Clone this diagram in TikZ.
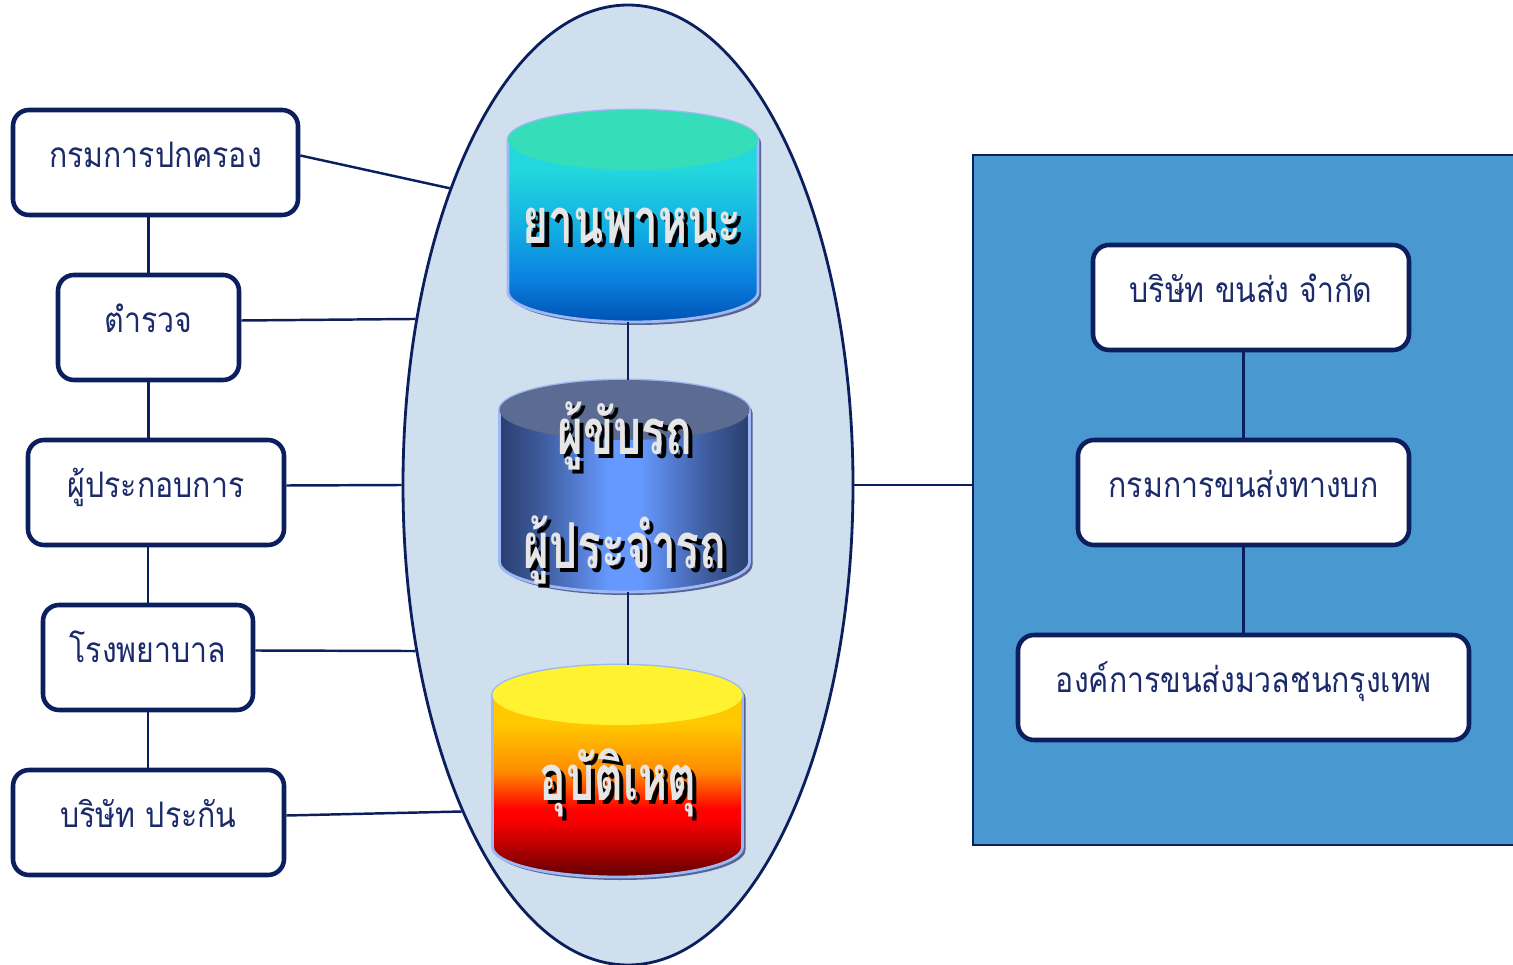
\documentclass[tikz,border=0pt]{standalone}
\usepackage{fontspec}
\newfontfamily\boxfont[Script=Thai, FakeStretch=0.86]{Loma}
\newfontfamily\cylfont[Script=Thai, FakeStretch=0.7]{Loma}
\usetikzlibrary{shapes.geometric,shadows}

\definecolor{navy}{HTML}{0B1F5E}
\definecolor{navytext}{HTML}{1A2A6A}
\definecolor{hubfill}{HTML}{CFDFEE}
\definecolor{panelblue}{HTML}{4A98D0}
\definecolor{cylline}{HTML}{9DB8F5}
\definecolor{labelgray}{HTML}{E6E6E6}
% cylinder colours
\definecolor{vehtop}{HTML}{35DDB8}
\definecolor{vehA}{HTML}{22D8DE}
\definecolor{vehB}{HTML}{12AEE2}
\definecolor{vehC}{HTML}{0A80E0}
\definecolor{vehD}{HTML}{0052B2}
\definecolor{drvtop}{HTML}{5B6B92}
\definecolor{drvA}{HTML}{2A3F70}
\definecolor{drvB}{HTML}{3D5A9A}
\definecolor{drvC}{HTML}{6699FF}
\definecolor{acctop}{HTML}{FFF230}
\definecolor{accA}{HTML}{FFC800}
\definecolor{accB}{HTML}{FF8C00}
\definecolor{accC}{HTML}{FF0000}
\definecolor{accD}{HTML}{C00000}
\definecolor{accE}{HTML}{600000}

\pgfdeclareverticalshading{vehshade}{100bp}{color(0bp)=(vehD); color(25bp)=(vehD);
  color(35bp)=(vehC); color(47bp)=(vehB); color(61bp)=(vehA); color(75bp)=(vehA); color(100bp)=(vehA)}
\pgfdeclarehorizontalshading{drvshade}{100bp}{color(0bp)=(drvA); color(25bp)=(drvA);
  color(33bp)=(drvB); color(47bp)=(drvC); color(53bp)=(drvC); color(67bp)=(drvB); color(75bp)=(drvA); color(100bp)=(drvA)}
\pgfdeclareverticalshading{accshade}{100bp}{color(0bp)=(accE); color(25bp)=(accE);
  color(33bp)=(accD); color(39bp)=(accC); color(41bp)=(accC); color(50bp)=(accB); color(61bp)=(accA); color(75bp)=(accA); color(100bp)=(accA)}

\tikzset{
  orgbox/.style={rectangle, rounded corners=1.6mm, draw=navy, line width=1.3pt, fill=white,
    minimum height=1.05cm, inner sep=0pt, text height=7pt, text depth=4pt,
    text=navytext, font=\boxfont\fontsize{10}{12}\selectfont},
  link/.style={draw=navy, line width=0.7pt},
  cylholder/.style={rectangle, inner sep=0pt, outer sep=0pt, minimum width=2.5cm, minimum height=2.12cm},
  cyllabel/.style={font=\cylfont\bfseries\fontsize{18}{22}\selectfont},
}

% shadowed text on the cylinders
\newcommand\cyltext[1]{\leavevmode\rlap{\kern1.2pt\raisebox{-1.2pt}{\color{black}#1}}{\color{labelgray}#1}}

% body and lid of a cylinder round a holder node
\newcommand\drawcyl[3]{%
  \path[draw=cylline, line width=0.8pt, shade, shading=#2,
    drop shadow={shadow xshift=0.3mm, shadow yshift=-0.3mm, fill=navy!75, opacity=0.9}]
    ([yshift=-3mm]#1.north west) -- ([yshift=3mm]#1.south west)
    arc[start angle=180, end angle=360, x radius=1.25cm, y radius=3mm]
    -- ([yshift=-3mm]#1.north east)
    arc[start angle=0, end angle=180, x radius=1.25cm, y radius=3mm] -- cycle;
  \fill[#3] ([yshift=-3mm]#1.north) ellipse[x radius=1.25cm, y radius=3mm];
}

\begin{document}
\begin{tikzpicture}
\useasboundingbox (0,0) rectangle (15.13,-9.65);
\clip (0,0) rectangle (15.13,-9.65);

% centre ellipse and right panel
\node [ellipse, draw=navy, line width=0.8pt, fill=hubfill, inner sep=0pt,
       minimum width=4.5cm, minimum height=9.6cm] (hub) at (6.28,-4.85) {};
\node [rectangle, draw=navy, line width=0.8pt, fill=panelblue, inner sep=0pt,
       minimum width=5.43cm, minimum height=6.9cm] (panel) at (12.445,-5.0) {};

% left column
\node [orgbox, minimum width=2.85cm] (dopa) at (1.555,-1.625) {กรมการปกครอง};
\node [orgbox, minimum width=1.81cm] (police) at (1.485,-3.275) {ตำรวจ};
\node [orgbox, minimum width=2.56cm] (operator) at (1.56,-4.925) {ผู้ประกอบการ};
\node [orgbox, minimum width=2.10cm] (hospital) at (1.48,-6.575) {โรงพยาบาล};
\node [orgbox, minimum width=2.71cm] (insurer) at (1.485,-8.225) {บริษัท ประกัน};

% right column
\node [orgbox, minimum width=3.16cm] (transco) at (12.51,-2.975) {บริษัท ขนส่ง จำกัด};
\node [orgbox, minimum width=3.31cm] (dlt) at (12.435,-4.925) {กรมการขนส่งทางบก};
\node [orgbox, minimum width=4.51cm] (bmta) at (12.435,-6.875) {องค์การขนส่งมวลชนกรุงเทพ};

% cylinders
\node [cylholder] (vehicle) at (6.33,-2.16) {};
\node [cylholder] (driver) at (6.245,-4.86) {};
\node [cylholder] (accident) at (6.175,-7.71) {};
\drawcyl{vehicle}{vehshade}{vehtop}
\drawcyl{driver}{drvshade}{drvtop}
\drawcyl{accident}{accshade}{acctop}

\node [cyllabel] (vehicle-t) at (6.32,-2.28) {\cyltext{ยานพาหนะ}};
\node [cyllabel] (driver-t) at (6.25,-4.38) {\cyltext{ผู้ขับรถ}};
\node [cyllabel] (crew-t) at (6.25,-5.52) {\cyltext{ผู้ประจำรถ}};
\node [cyllabel] (accident-t) at (6.18,-7.85) {\cyltext{อุบัติเหตุ}};

% connectors
\path [link] (police.north) edge (police.north |- dopa.south);
\path [link] (police.south) edge (police.south |- operator.north);
\path [link] (hospital.north) edge (hospital.north |- operator.south);
\path [link] (hospital.south) edge (hospital.south |- insurer.north);
\path [link] ([yshift=0.7mm]dopa.east) edge (hub.121);
\path [link] ([yshift=0.7mm]police.east) edge (hub.142);
\path [link] ([yshift=0.7mm]operator.east) edge (hub.180);
\path [link] ([yshift=0.7mm]hospital.east) edge (hub.218.2);
\path [link] ([yshift=0.7mm]insurer.east) edge (hub.243.8);
\path [link] (vehicle.south -| hub) edge (driver.north -| hub);
\path [link] (driver.south -| hub) edge (accident.north -| hub);
\path [link] (hub.east) edge (hub.east -| panel.west);
\path [link] (dlt.north -| bmta) edge (transco.south -| bmta);
\path [link] (dlt.south) edge (bmta.north);

\end{tikzpicture}
\end{document}
